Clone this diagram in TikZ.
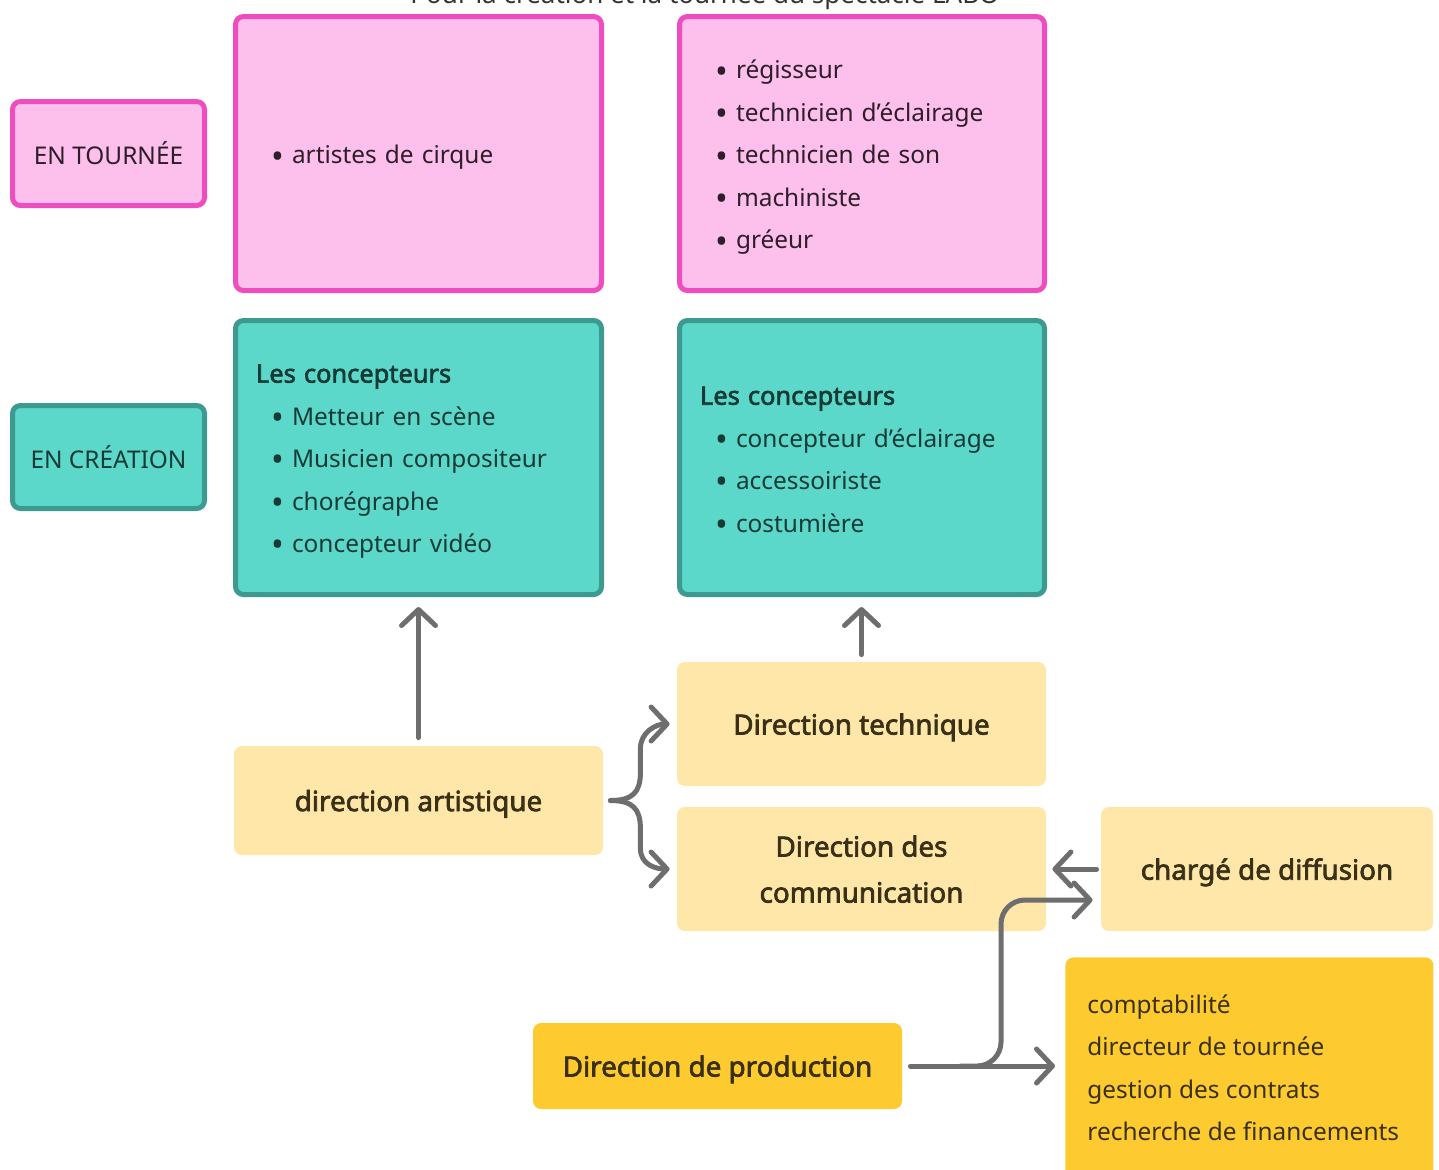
\documentclass[tikz,border=0pt]{standalone}
\usepackage{fontspec}
\setmainfont{Noto Sans}[BoldFont={Noto Sans}, BoldFeatures={FakeBold=2.5}]
\usetikzlibrary{arrows.meta,calc}
\definecolor{pinkfill}{HTML}{FDC0EC}
\definecolor{pinkline}{HTML}{EE4DC0}
\definecolor{tealfill}{HTML}{5CD8CB}
\definecolor{tealline}{HTML}{3C9A90}
\definecolor{lightyel}{HTML}{FEE7A8}
\definecolor{stryel}{HTML}{FDCB2F}
\definecolor{arrgray}{HTML}{6E6E6E}
\definecolor{pinktext}{HTML}{2E1E2A}
\definecolor{tealtext}{HTML}{173A35}
\definecolor{yeltext}{HTML}{3A3018}
\definecolor{titletext}{HTML}{333333}
\newcommand\bitem[1]{\makebox[18pt][l]{\hspace{7.5pt}\raisebox{-2.1pt}{\fontsize{17pt}{17pt}\selectfont\textbullet}}#1}
\newcommand\headline[1]{{\fontsize{12.7pt}{21.25pt}\selectfont\bfseries #1}}
\begin{document}
\begin{tikzpicture}[x=0.5pt,y=-0.5pt,
  bodyfont/.style={font=\fontsize{12.2pt}{21.25pt}\selectfont},
  boldfont/.style={font=\fontsize{13.9pt}{23pt}\selectfont\bfseries},
  pinkbox/.style={draw=pinkline, fill=pinkfill, line width=2.5pt, rounded corners=4pt, text=pinktext, bodyfont, inner sep=0pt},
  tealbox/.style={draw=tealline, fill=tealfill, line width=2.5pt, rounded corners=4pt, text=tealtext, bodyfont, inner sep=0pt},
  boxtext/.style={bodyfont, inner sep=0pt, align=left},
  lyelbox/.style={fill=lightyel, rounded corners=4pt, text=yeltext, boldfont, inner sep=0pt, align=center, text depth=0pt},
  syelbox/.style={fill=stryel, rounded corners=4pt, text=yeltext, boldfont, inner sep=0pt, align=center, text depth=0pt},
  arr/.style={draw=arrgray, line width=2.5pt, line cap=round, line join=round, -{Straight Barb[length=8pt,width=17pt,round]}}
]
\useasboundingbox (0,0) rectangle (1439,1169);

% title (cut at top)
\node[anchor=base, text=titletext, font=\fontsize{13pt}{15pt}\selectfont, inner sep=0pt] (title) at (705,3) {Pour la création et la tournée du spectacle LABO};

% row labels
\node[pinkbox, minimum width=96pt, minimum height=52pt] (tour) at (108.5,153.5) {EN TOURNÉE};
\node[tealbox, minimum width=96pt, minimum height=51.5pt] (crea) at (108.5,457) {EN CRÉATION};

% pink boxes
\node[pinkbox, minimum width=183pt, minimum height=137pt] (p1) at (418.5,153.5) {};
\node[boxtext, text=pinktext, text width=162.5pt] (p1t) at ([yshift=-2pt]p1.center)
  {\bitem{artistes de cirque}};
\node[pinkbox, minimum width=182.5pt, minimum height=137pt] (p2) at (862,153.5) {};
\node[boxtext, text=pinktext, text width=162pt] (p2t) at ([yshift=-2pt]p2.center)
  {\bitem{régisseur}\\ \bitem{technicien d’éclairage}\\ \bitem{technicien de son}\\ \bitem{machiniste}\\ \bitem{gréeur}};

% teal boxes
\node[tealbox, minimum width=183pt, minimum height=137pt] (t1) at (418.5,457.5) {};
\node[boxtext, text=tealtext, text width=162.5pt] (t1t) at ([yshift=-2pt]t1.center)
  {\headline{Les concepteurs}\\ \bitem{Metteur en scène}\\ \bitem{Musicien compositeur}\\ \bitem{chorégraphe}\\ \bitem{concepteur vidéo}};
\node[tealbox, minimum width=182.5pt, minimum height=137pt] (t2) at (862,457.5) {};
\node[boxtext, text=tealtext, text width=162pt] (t2t) at ([yshift=-2pt]t2.center)
  {\headline{Les concepteurs}\\ \bitem{concepteur d’éclairage}\\ \bitem{accessoiriste}\\ \bitem{costumière}};

% yellow boxes
\node[lyelbox, minimum width=184.5pt, minimum height=54.5pt] (da) at (418.5,800.5) {direction artistique};
\node[lyelbox, minimum width=184.5pt, minimum height=62pt] (dt) at (861.5,724) {Direction technique};
\node[lyelbox, minimum width=184.5pt, minimum height=62pt] (dc) at (861.5,869) {Direction des\\communication};
\node[lyelbox, minimum width=166pt, minimum height=62pt] (cd) at (1267,869) {chargé de diffusion};
\node[syelbox, minimum width=184.5pt, minimum height=43pt] (dp) at (717.5,1066) {Direction de production};
\node[syelbox, anchor=north west, minimum width=184pt, minimum height=115pt] (acc) at (1065,957) {};
\node[anchor=north west, text=yeltext, bodyfont, align=left, inner sep=0pt] (acctext) at (1087,994)
  {comptabilité\\ directeur de tournée\\ gestion des contrats\\ recherche de financements};

% vertical arrows
\draw[arr] ([yshift=4pt]da.north) -- ([yshift=-5pt]t1.south);
\draw[arr] ([yshift=3.5pt]dt.north) -- ([yshift=-5pt]dt.north |- t2.south);

% brace from direction artistique
\coordinate (apex) at ([xshift=3.5pt]da.east);
\coordinate (tipA) at ([xshift=-3.5pt]dt.west);
\coordinate (tipB) at ([xshift=-3.5pt]dc.west);
\coordinate (a1) at ($(apex)+(30,-28)$);
\coordinate (a2) at ($(apex)+(30,-52)$);
\coordinate (b1) at ($(apex)+(30,28)$);
\coordinate (b2) at ($(apex)+(30,48)$);
\draw[arr] (apex) .. controls ($(apex)+(22,0)$) and ($(a1)+(0,20)$) .. (a1) -- (a2)
  .. controls ($(a2)+(0,-16)$) and ($(tipA)+(-14,0)$) .. (tipA);
\draw[arr] (apex) .. controls ($(apex)+(22,0)$) and ($(b1)+(0,-20)$) .. (b1) -- (b2)
  .. controls ($(b2)+(0,16)$) and ($(tipB)+(-14,0)$) .. (tipB);

% charge de diffusion -> direction des communication
\draw[arr] ([xshift=-2pt]cd.west) -- ([xshift=3pt]dc.east);

% direction de production arrows
\coordinate (ps) at ([xshift=4pt]dp.east);
\coordinate (pe) at ([xshift=-5pt]acc.west |- dp.east);
\coordinate (bs) at ($(ps)+(50,0)$);
\coordinate (knee) at (1001,1066);
\coordinate (top) at (1001,900);
\coordinate (pc) at ([shift={(-8,31)}]cd.west);
\draw[arr] (ps) -- (pe);
\draw[arr, rounded corners=12pt] (bs) -- (knee) -- (top) -- (pc);
\end{tikzpicture}
\end{document}
